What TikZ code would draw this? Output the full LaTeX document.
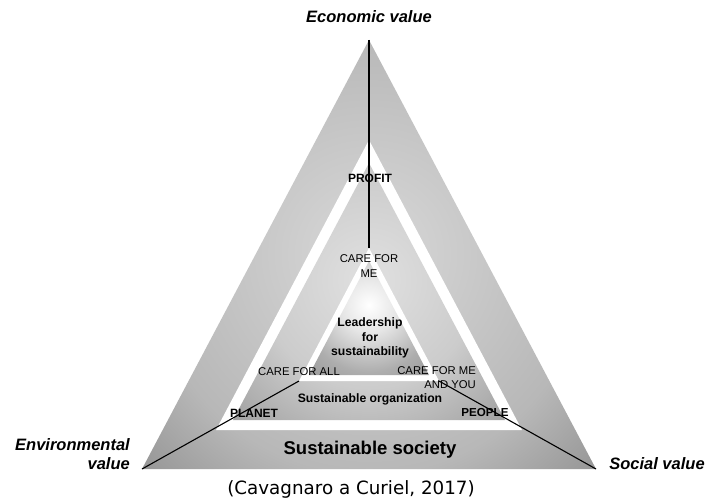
\documentclass[tikz,border=0pt]{standalone}
\usepackage{fontspec}
\setmainfont{Liberation Sans}
\newfontfamily\capfont{DejaVu Sans}
\pgfdeclareradialshading{outersh}{\pgfpoint{0bp}{0bp}}{rgb(0bp)=(.85,.85,.85); rgb(22bp)=(.72,.72,.72); rgb(34bp)=(.55,.55,.55); rgb(45bp)=(.45,.45,.45); rgb(58bp)=(.38,.38,.38); rgb(72bp)=(.34,.34,.34)}
\pgfdeclareradialshading{middlesh}{\pgfpoint{0bp}{0bp}}{rgb(0bp)=(.88,.88,.88); rgb(18bp)=(.80,.80,.80); rgb(30bp)=(.66,.66,.66); rgb(40bp)=(.52,.52,.52); rgb(52bp)=(.42,.42,.42); rgb(72bp)=(.36,.36,.36)}
\pgfdeclareradialshading{innersh}{\pgfpoint{0bp}{0bp}}{rgb(0bp)=(1,1,1); rgb(10bp)=(.90,.90,.90); rgb(24bp)=(.68,.68,.68); rgb(42bp)=(.54,.54,.54); rgb(72bp)=(.48,.48,.48)}
\tikzset{
  lbl/.style={font=\fontsize{16.5}{19}\selectfont\bfseries\itshape, inner sep=0pt, align=right},
  caps/.style={font=\fontsize{12}{14}\selectfont\bfseries, inner sep=0pt},
  thin/.style={font=\fontsize{11.3}{14.5}\selectfont, inner sep=0pt, text=black},
  bold12/.style={font=\fontsize{12.2}{14.5}\selectfont\bfseries, inner sep=0pt, align=center},
  axis/.style={black, line width=1.4pt},
}
\begin{document}
\begin{tikzpicture}[x=1pt,y=-1pt]
\useasboundingbox (0,0) rectangle (707,503);
\fill[white] (0,0) rectangle (707,503);
% vertices
\coordinate (O1) at (369,40);
\coordinate (O2) at (142,469);
\coordinate (O3) at (596,469);
\coordinate (MW1) at (369,140);
\coordinate (MW2) at (216,430);
\coordinate (MW3) at (522,430);
\coordinate (MG1) at (369,163);
\coordinate (MG2) at (233,420);
\coordinate (MG3) at (505,420);
\coordinate (IW1) at (369,248);
\coordinate (IW2) at (299,381);
\coordinate (IW3) at (439,381);
\coordinate (IG1) at (369,261);
\coordinate (IG2) at (309,375);
\coordinate (IG3) at (429,375);
% shapes: radial shadings, 50bp = half side of the square
\begin{scope}
  \clip (O1) -- (O2) -- (O3) -- cycle;
  \shade[shading=outersh] (369-250,254-250) rectangle (369+250,254+250);
\end{scope}
\fill[white] (MW1) -- (MW2) -- (MW3) -- cycle;
\begin{scope}
  \clip (MG1) -- (MG2) -- (MG3) -- cycle;
  \shade[shading=middlesh] (369-150,280-150) rectangle (369+150,280+150);
\end{scope}
\fill[white] (IW1) -- (IW2) -- (IW3) -- cycle;
\begin{scope}
  \clip (IG1) -- (IG2) -- (IG3) -- cycle;
  \shade[shading=innersh] (369-70,305-70) rectangle (369+70,305+70);
\end{scope}
% lines
\draw[axis, line width=1.6pt] (O1) -- (IW1);
\draw[axis, line width=1.1pt] (O2) -- (IW2);
\draw[axis, line width=1.1pt] (O3) -- (IW3);
% texts
\node[lbl] (econ) at (369,17) {Economic value};
\node[lbl, anchor=east] (env) at (130,454) {Environmental\\value};
\node[lbl] (soc) at (657,464) {Social value};
\node[caps] (profit) at (370,178) {PROFIT};
\node[thin, align=center] (cme) at (369,266) {CARE FOR\\ME};
\node[bold12] (lead) at (370,338) {Leadership\\for\\sustainability};
\node[thin] (call) at (299,372) {CARE FOR ALL};
\node[thin, align=right, anchor=north east] (cmey) at (476,366) {CARE FOR ME\\AND YOU};
\node[bold12] (sorg) at (370,399) {Sustainable organization};
\node[caps] (planet) at (254,413) {PLANET};
\node[caps, font=\fontsize{11.6}{14}\selectfont\bfseries] (people) at (485,413) {PEOPLE};
\node[font=\fontsize{18.5}{22}\selectfont\bfseries, inner sep=0pt] (ssoc) at (370,450) {Sustainable society};
\node[font=\capfont\fontsize{18.3}{22}\selectfont, inner sep=0pt] (cite) at (351,489) {(Cavagnaro a Curiel, 2017)};
\end{tikzpicture}
\end{document}
